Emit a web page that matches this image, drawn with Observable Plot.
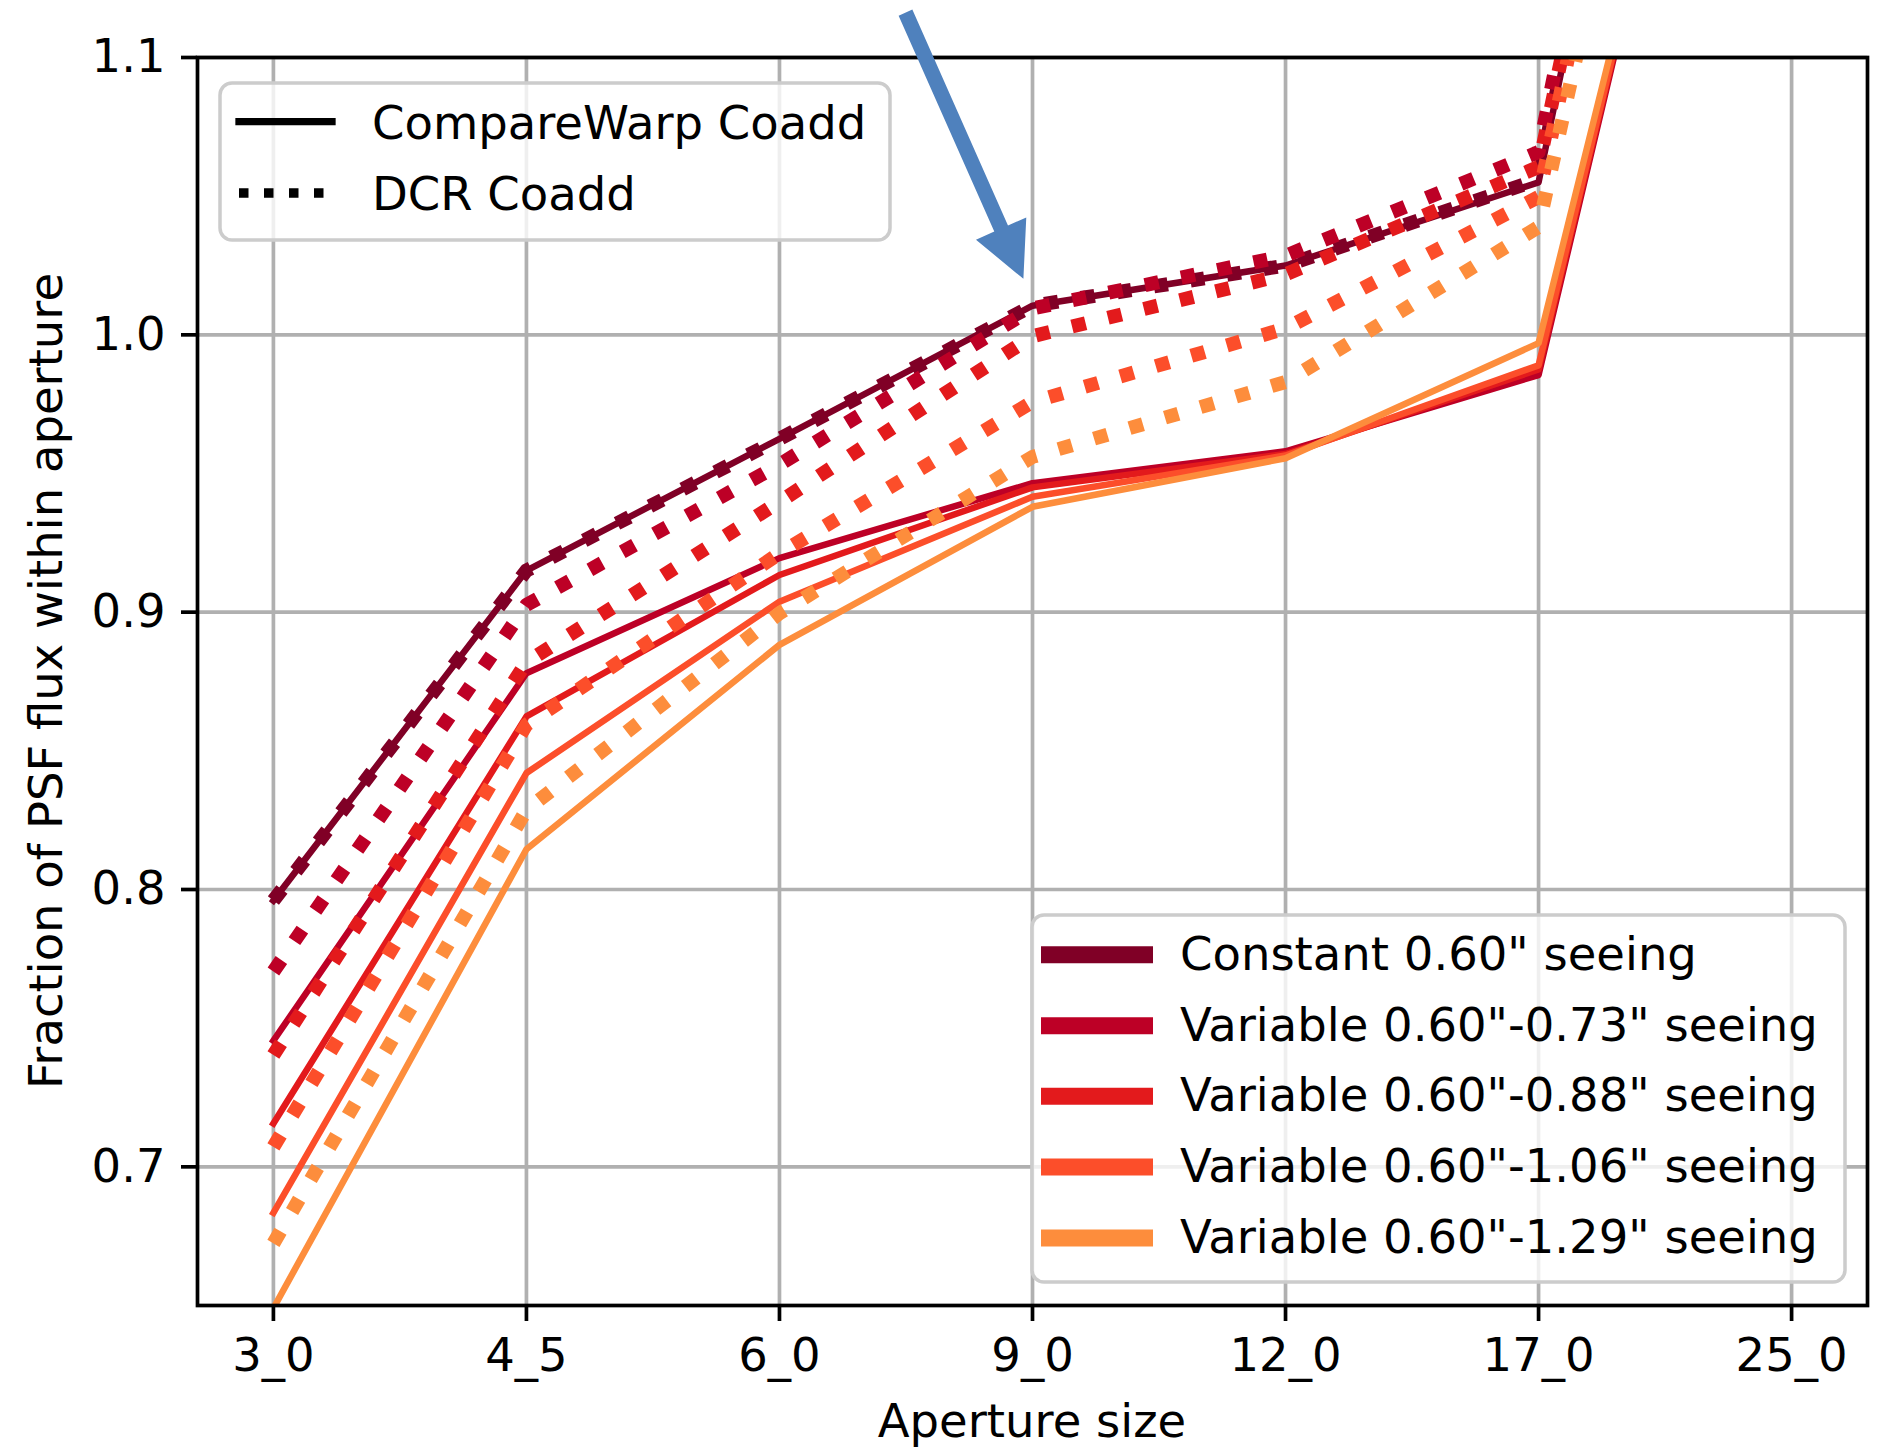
<!DOCTYPE html>
<html><head><meta charset="utf-8">
<script src="https://cdn.jsdelivr.net/npm/d3@7"></script>
<script src="https://cdn.jsdelivr.net/npm/@observablehq/plot@0.6"></script>
<style>
html,body{margin:0;padding:0;background:#fff;}
#chart{width:1877px;height:1447px;overflow:hidden;}
</style>
</head><body><div id="chart"></div>
<script>
// ---- data ----
const apertures = ["3_0", "4_5", "6_0", "9_0", "12_0", "17_0", "25_0"];
const seeingLabels = [
  "Constant 0.60\" seeing",
  "Variable 0.60\"-0.73\" seeing",
  "Variable 0.60\"-0.88\" seeing",
  "Variable 0.60\"-1.06\" seeing",
  "Variable 0.60\"-1.29\" seeing"
];
const seeingColors = ["#800026", "#bd0026", "#e31a1c", "#fc4e2a", "#fd8d3c"];
const methods = ["CompareWarp Coadd", "DCR Coadd"];

// CompareWarp Coadd (solid)
const compareWarp_c060 = [0.796, 0.915, 0.9625, 1.0105, 1.025, 1.055, 1.50];
const compareWarp_v073 = [0.7455, 0.878, 0.9195, 0.9465, 0.958, 0.9855, 1.37];
const compareWarp_v088 = [0.7156, 0.8624, 0.9134, 0.945, 0.957, 0.9875, 1.37];
const compareWarp_v106 = [0.6834, 0.842, 0.9038, 0.9416, 0.9565, 0.989, 1.37];
const compareWarp_v129 = [0.649, 0.8145, 0.8882, 0.938, 0.9555, 0.997, 1.365];
// DCR Coadd (dotted)
const dcr_c060 = [0.796, 0.915, 0.9625, 1.0105, 1.025, 1.056, 1.50];
const dcr_v073 = [0.7704, 0.9026, 0.9532, 1.0095, 1.0285, 1.0659, 1.52];
const dcr_v088 = [0.7403, 0.882, 0.9398, 0.9995, 1.0218, 1.0605, 1.495];
const dcr_v106 = [0.7072, 0.8594, 0.9212, 0.9758, 1.0023, 1.0497, 1.48];
const dcr_v129 = [0.6724, 0.8287, 0.8996, 0.956, 0.983, 1.0389, 1.45];

const yTicks = [0.7, 0.8, 0.9, 1.0, 1.1];
// annotation arrow (data coordinates: x = aperture index, y = fraction)
const arrowTail = {x: 2.5, y: 1.116};
const arrowTip = {x: 2.966, y: 1.02};

// ---- build table ----
const series = {
  "CompareWarp Coadd": [compareWarp_c060, compareWarp_v073, compareWarp_v088, compareWarp_v106, compareWarp_v129],
  "DCR Coadd": [dcr_c060, dcr_v073, dcr_v088, dcr_v106, dcr_v129]
};
const rows = [];
for (const m of methods) {
  series[m].forEach((vals, s) => {
    vals.forEach((v, i) => rows.push({method: m, seeing: seeingLabels[s], s, ap: i, value: v}));
  });
}
const apIdx = apertures.map((_, i) => i);

const lineMarks = [];
for (const m of methods) {
  const dotted = m === "DCR Coadd";
  seeingLabels.forEach((lab, s) => {
    lineMarks.push(Plot.line(rows.filter(d => d.method === m && d.s === s), {
      x: "ap", y: "value",
      stroke: seeingColors[s],
      strokeWidth: dotted ? 14 : 6.5,
      strokeDasharray: dotted ? "14,23" : null,
      strokeLinecap: dotted ? "butt" : "square",
      strokeLinejoin: "round",
      clip: true
    }));
  });
}

const plot = Plot.plot({
  width: 1877,
  height: 1447,
  marginLeft: 197,
  marginRight: 10,
  marginTop: 57,
  marginBottom: 142,
  style: {fontFamily: "DejaVu Sans", fontSize: "46.5px", color: "black", background: "white", overflow: "visible"},
  x: {type: "linear", domain: [-0.3, 6.3], label: null},
  y: {domain: [0.65, 1.1], label: null},
  marks: [
    Plot.ruleX(apIdx, {x: d => d, stroke: "#b0b0b0", strokeWidth: 3.7}),
    Plot.ruleY(yTicks, {y: d => d, stroke: "#b0b0b0", strokeWidth: 3.7}),
    ...lineMarks,
    Plot.frame({stroke: "black", strokeWidth: 3.7}),
    Plot.axisX({ticks: apIdx, tickFormat: i => apertures[i], tickSize: 16, tickPadding: 16, strokeWidth: 3.7, label: null}),
    Plot.axisY({ticks: yTicks, tickFormat: d3.format(".1f"), tickSize: 16, tickPadding: 16, strokeWidth: 3.7, label: null})
  ]
});
document.getElementById("chart").appendChild(plot);

// ---- annotations drawn with the plot's scales ----
const sx = plot.scale("x"), sy = plot.scale("y");
const svg = d3.select(plot);
const font = "DejaVu Sans";

// axis labels
svg.append("text").attr("x", (sx.apply(-0.3) + sx.apply(6.3)) / 2).attr("y", 1437)
  .attr("text-anchor", "middle").attr("font-family", font).attr("font-size", 46.5).attr("fill", "black")
  .text("Aperture size");
svg.append("text").attr("transform", `translate(62,${(sy.apply(0.65) + sy.apply(1.1)) / 2}) rotate(-90)`)
  .attr("text-anchor", "middle").attr("font-family", font).attr("font-size", 46.5).attr("fill", "black")
  .text("Fraction of PSF flux within aperture");

// legend 1 (line style)
const g1 = svg.append("g").attr("text-anchor", "start");
g1.append("rect").attr("x", 220).attr("y", 83).attr("width", 670).attr("height", 157).attr("rx", 12)
  .attr("fill", "white").attr("fill-opacity", 0.8).attr("stroke", "#cccccc").attr("stroke-width", 3.5);
g1.append("line").attr("x1", 239).attr("x2", 332).attr("y1", 121.7).attr("y2", 121.7)
  .attr("stroke", "black").attr("stroke-width", 7.3).attr("stroke-linecap", "square");
g1.append("line").attr("x1", 239).attr("x2", 332).attr("y1", 193).attr("y2", 193)
  .attr("stroke", "black").attr("stroke-width", 9.5).attr("stroke-dasharray", "9.5,15.5").attr("stroke-linecap", "butt");
[["CompareWarp Coadd", 139], ["DCR Coadd", 210]].forEach(([t, yb]) => {
  g1.append("text").attr("x", 372).attr("y", yb).attr("text-anchor", "start").attr("font-family", font)
    .attr("font-size", 46.5).attr("fill", "black").text(t);
});

// legend 2 (seeing colours)
const g2 = svg.append("g").attr("text-anchor", "start");
g2.append("rect").attr("x", 1032).attr("y", 915).attr("width", 813).attr("height", 367).attr("rx", 12)
  .attr("fill", "white").attr("fill-opacity", 0.8).attr("stroke", "#cccccc").attr("stroke-width", 3.5);
const rowY = [954.8, 1025.7, 1096.3, 1167, 1238];
seeingLabels.forEach((lab, s) => {
  g2.append("line").attr("x1", 1041).attr("x2", 1153).attr("y1", rowY[s]).attr("y2", rowY[s])
    .attr("stroke", seeingColors[s]).attr("stroke-width", 17);
  g2.append("text").attr("x", 1180).attr("y", rowY[s] + 15).attr("text-anchor", "start").attr("font-family", font)
    .attr("font-size", 46.5).attr("fill", "black").text(lab);
});

// blue arrow
const tx = sx.apply(arrowTail.x), ty = sy.apply(arrowTail.y);
const hx = sx.apply(arrowTip.x), hy = sy.apply(arrowTip.y);
const len = Math.hypot(hx - tx, hy - ty);
const ux = (hx - tx) / len, uy = (hy - ty) / len;
const nx = -uy, ny = ux;
const hw = 7.5, HL = 55, HW = 27.5;
const bx = hx - ux * HL, by = hy - uy * HL;
const pts = [
  [tx + nx * hw, ty + ny * hw], [bx + nx * hw, by + ny * hw], [bx + nx * HW, by + ny * HW],
  [hx, hy],
  [bx - nx * HW, by - ny * HW], [bx - nx * hw, by - ny * hw], [tx - nx * hw, ty - ny * hw]
];
svg.append("path").attr("d", "M" + pts.map(p => p.join(",")).join("L") + "Z").attr("fill", "#4f81bd");
</script>
</body></html>
